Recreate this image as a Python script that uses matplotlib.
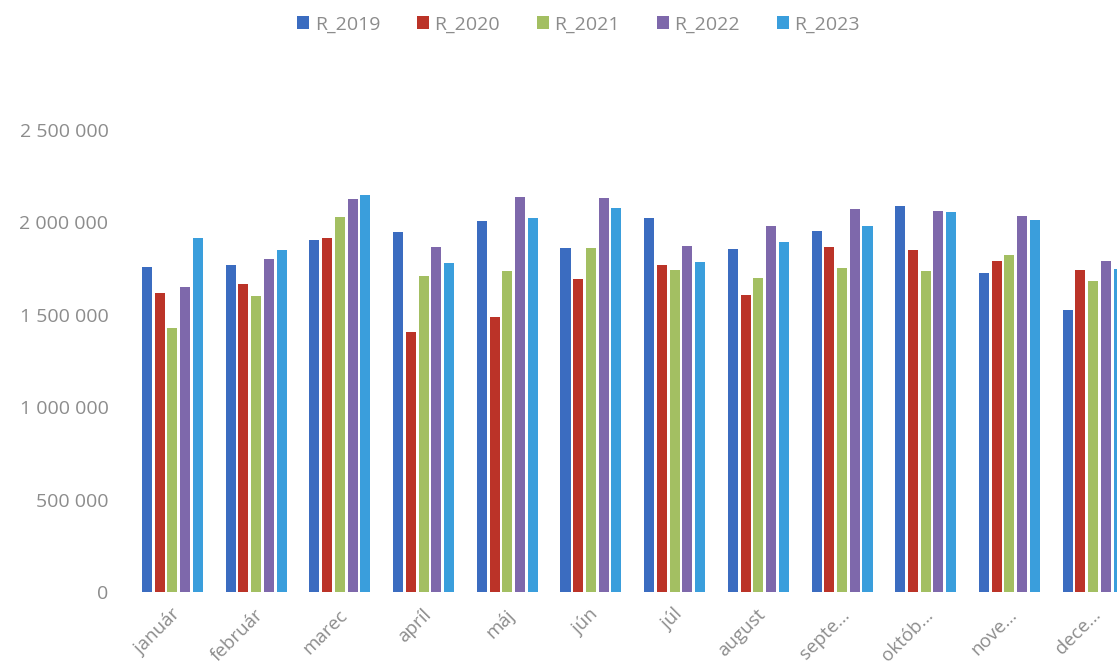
import matplotlib.pyplot as plt
import numpy as np

months = ['január', 'február', 'marec', 'apríl', 'máj', 'jún', 'júl', 'august',
          'septe…', 'októb…', 'nove…', 'dece…']
series = ['R_2019', 'R_2020', 'R_2021', 'R_2022', 'R_2023']

r2019 = [1760000, 1769000, 1903000, 1946000, 2009000, 1860000, 2024000, 1854000, 1953000, 2091000, 1728000, 1525000]
r2020 = [1620000, 1667000, 1914000, 1405000, 1490000, 1692000, 1768000, 1607000, 1869000, 1849000, 1793000, 1742000]
r2021 = [1427000, 1602000, 2031000, 1710000, 1739000, 1863000, 1744000, 1699000, 1752000, 1737000, 1824000, 1681000]
r2022 = [1652000, 1802000, 2127000, 1867000, 2136000, 2130000, 1874000, 1981000, 2074000, 2062000, 2036000, 1793000]
r2023 = [1917000, 1851000, 2148000, 1782000, 2022000, 2080000, 1786000, 1892000, 1981000, 2055000, 2015000, 1746000]

colors = ['#3b6cc0', '#bb3328', '#a3bf62', '#7e68ab', '#3a9edc']

plt.rcParams['font.family'] = ['Open Sans', 'DejaVu Sans']

fig = plt.figure(figsize=(11.17, 6.68), dpi=100)
ax = fig.add_axes([130.6 / 1117, 76 / 668, 1004.4 / 1117, 462 / 668])

x = np.arange(len(months))
step = 0.152
width = 0.12
data = [r2019, r2020, r2021, r2022, r2023]
for i, (name, vals) in enumerate(zip(series, data)):
    ax.bar(x + (i - 2) * step, vals, width, color=colors[i], label=name)

ax.set_xlim(-0.5, len(months) - 0.5)
ax.set_ylim(0, 2500000)
ax.set_yticks(np.arange(0, 2500001, 500000))
ax.set_yticklabels(['{:,}'.format(v).replace(',', ' ') for v in range(0, 2500001, 500000)])
ax.set_xticks(x - 0.02)
ax.set_xticklabels(months, rotation=45, ha='right', rotation_mode='anchor')

ax.tick_params(axis='y', length=0, colors='#8c8c8c', labelsize=14, pad=16)
ax.tick_params(axis='x', length=0, colors='#8c8c8c', labelsize=13.5, pad=10)
for s in ax.spines.values():
    s.set_visible(False)

leg = fig.legend(loc='upper center', bbox_to_anchor=(0.518, 1.003), ncol=5, frameon=False,
                 fontsize=14, handlelength=0.6, handleheight=0.6, handletextpad=0.3,
                 columnspacing=1.9)
for t in leg.get_texts():
    t.set_color('#8c8c8c')

fig.savefig('out.png', dpi=100)
